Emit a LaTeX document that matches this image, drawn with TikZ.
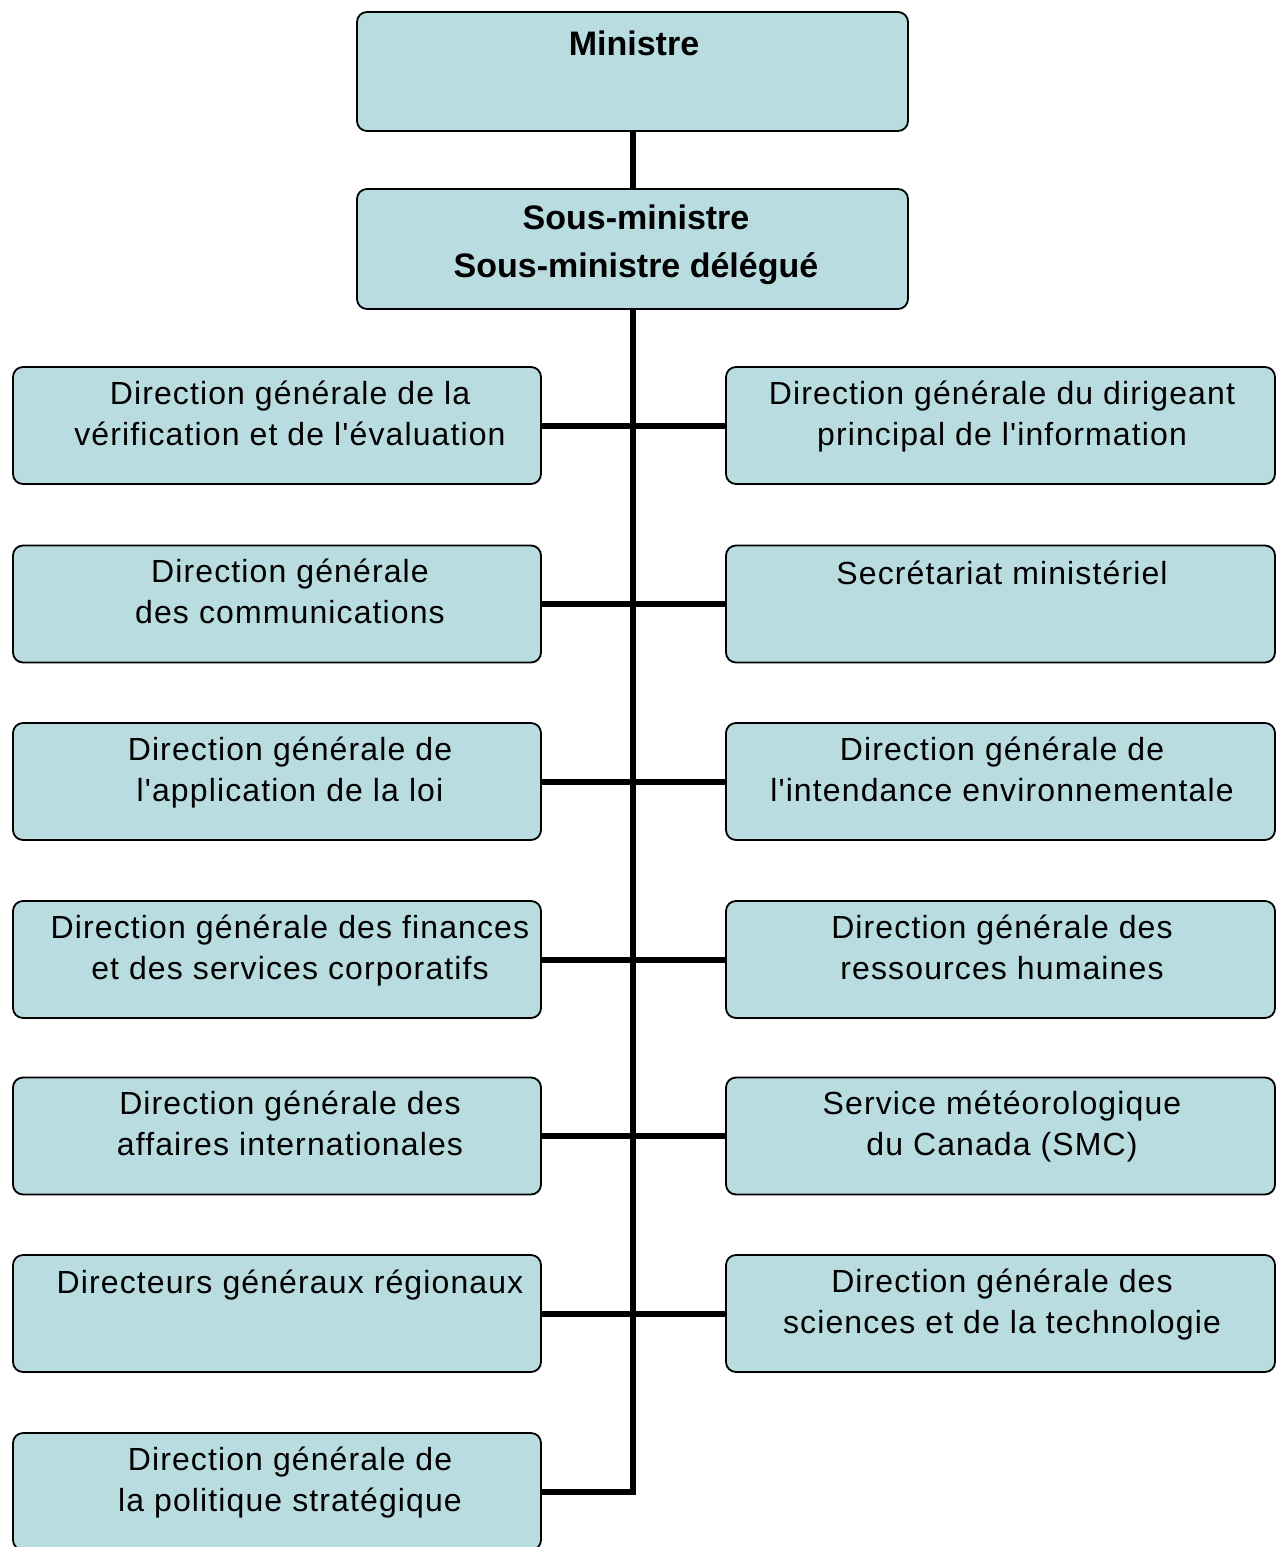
\documentclass[tikz,border=0pt]{standalone}
\usepackage{fontspec}
\setmainfont{Liberation Sans}
\newfontfamily\regfont[LetterSpace=3.5]{Liberation Sans}
\definecolor{boxfill}{HTML}{B9DCE0}
\begin{document}
\begin{tikzpicture}[x=1pt,y=-1pt,
  orgbox/.style={draw=black,line width=1.8pt,fill=boxfill,rounded corners=10pt,inner sep=0pt,outer sep=0pt},
  lbox/.style={orgbox,minimum width=528pt,minimum height=117pt},
  rbox/.style={orgbox,minimum width=549pt,minimum height=117pt},
  topbox/.style={orgbox,minimum width=551pt,minimum height=119pt},
  lbl/.style={anchor=north,align=center,inner sep=0pt,font=\regfont\fontsize{32}{41}\selectfont},
  blbl/.style={anchor=north,align=center,inner sep=0pt,font=\bfseries\fontsize{34}{48}\selectfont},
  conn/.style={line width=6pt,draw=black}]
\useasboundingbox (0,0) rectangle (1279,1547);
\clip (0,0) rectangle (1279,1547);
\fill[white] (0,0) rectangle (1279,1547);

% top boxes
\node[topbox] (min) at (632.5,71.5) {};
\node[topbox,minimum height=120pt] (sous) at (632.5,249) {};

% left column
\node[lbox] (L1) at (277,425.5) {};
\node[lbox] (L2) at (277,604) {};
\node[lbox] (L3) at (277,781.5) {};
\node[lbox] (L4) at (277,959.5) {};
\node[lbox] (L5) at (277,1136) {};
\node[lbox] (L6) at (277,1313.5) {};
\node[lbox] (L7) at (277,1491.5) {};

% right column
\node[rbox] (R1) at (1000.5,425.5) {};
\node[rbox] (R2) at (1000.5,604) {};
\node[rbox] (R3) at (1000.5,781.5) {};
\node[rbox] (R4) at (1000.5,959.5) {};
\node[rbox] (R5) at (1000.5,1136) {};
\node[rbox] (R6) at (1000.5,1313.5) {};

% connectors
\draw[conn] (min.south) -- (sous.north);
\coordinate (trunkend) at (sous.south |- L7.east);
\draw[conn,line join=miter] (sous.south) -- (trunkend) -- (L7.east);
\draw[conn] (L1.east) -- (R1.west);
\draw[conn] (L2.east) -- (R2.west);
\draw[conn] (L3.east) -- (R3.west);
\draw[conn] (L4.east) -- (R4.west);
\draw[conn] (L5.east) -- (R5.west);
\draw[conn] (L6.east) -- (R6.west);

% labels
\node[blbl] (tmin) at (634,21.4) {\strut Ministre};
\node[blbl] (tsous) at (636,195.4) {\strut Sous-ministre\\Sous-ministre délégué};

\node[lbl] (tL1) at (290,375.3) {\strut Direction générale de la\\vérification et de l'évaluation};
\node[lbl] (tL2) at (290,553.3) {\strut Direction générale\\des communications};
\node[lbl] (tL3) at (290,731.3) {\strut Direction générale de\\l'application de la loi};
\node[lbl] (tL4) at (290,909.3) {\strut Direction générale des finances\\et des services corporatifs};
\node[lbl] (tL5) at (290,1085.3) {\strut Direction générale des\\affaires internationales};
\node[lbl] (tL6) at (290,1264.3) {\strut Directeurs généraux régionaux};
\node[lbl] (tL7) at (290,1441.3) {\strut Direction générale de\\la politique stratégique};

\node[lbl] (tR1) at (1002,375.3) {\strut Direction générale du dirigeant\\principal de l'information};
\node[lbl] (tR2) at (1002,555.3) {\strut Secrétariat ministériel};
\node[lbl] (tR3) at (1002,731.3) {\strut Direction générale de\\l'intendance environnementale};
\node[lbl] (tR4) at (1002,909.3) {\strut Direction générale des\\ressources humaines};
\node[lbl] (tR5) at (1002,1085.3) {\strut Service météorologique\\du Canada (SMC)};
\node[lbl] (tR6) at (1002,1263.3) {\strut Direction générale des\\sciences et de la technologie};
\end{tikzpicture}
\end{document}
